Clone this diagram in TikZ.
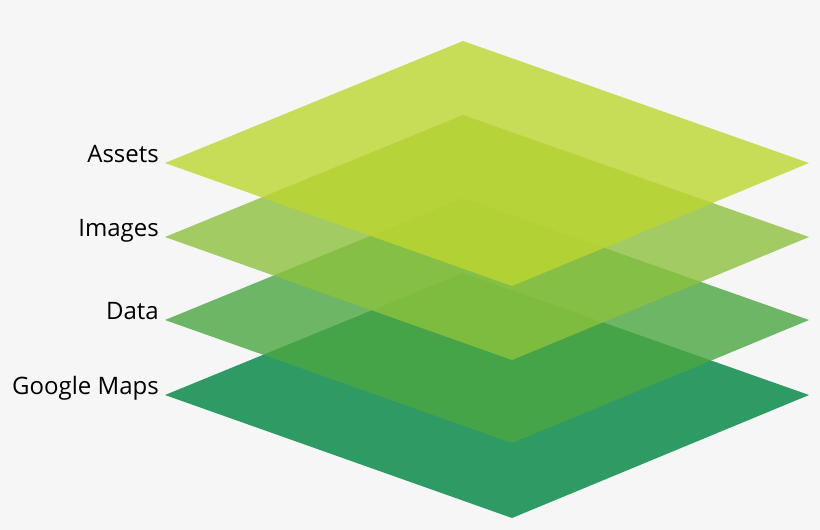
\documentclass[tikz,border=0pt]{standalone}
\usepackage{fontspec}
\setmainfont{Open Sans}
\begin{document}
\begin{tikzpicture}[x=1pt,y=-1pt,
  layerlabel/.style={anchor=base east,font=\fontsize{24}{28}\selectfont,text=black,inner sep=0pt},
  layer/.style={fill=#1,draw=none,fill opacity=0.8}]
\definecolor{bgc}{HTML}{F6F6F6}
\definecolor{cgm}{HTML}{2E9A64}
\definecolor{cdata}{HTML}{4BA742}
\definecolor{cimg}{HTML}{8DC23F}
\definecolor{cass}{HTML}{BCD630}
\fill[bgc] (0,0) rectangle (820,530);
\useasboundingbox (0,0) rectangle (820,530);
% Google Maps (opaque bottom)
\fill[cgm] (165,395) -- (463,273) -- (809,395) -- (512,518) -- cycle;
\fill[layer=cdata] (165,320) -- (463,198) -- (809,320) -- (512,443) -- cycle;
\fill[layer=cimg] (165,237) -- (463,115) -- (809,237) -- (512,360) -- cycle;
\fill[layer=cass] (165,163) -- (463,41) -- (809,163) -- (512,286) -- cycle;
\coordinate (lgm) at (159,394);
\coordinate (ldata) at (159,319);
\coordinate (limg) at (159,236);
\coordinate (lass) at (159,162);
\node[layerlabel] (tass) at (lass) {Assets};
\node[layerlabel] (timg) at (limg) {Images};
\node[layerlabel] (tdata) at (ldata) {Data};
\node[layerlabel] (tgm) at (lgm) {Google Maps};
\end{tikzpicture}
\end{document}
